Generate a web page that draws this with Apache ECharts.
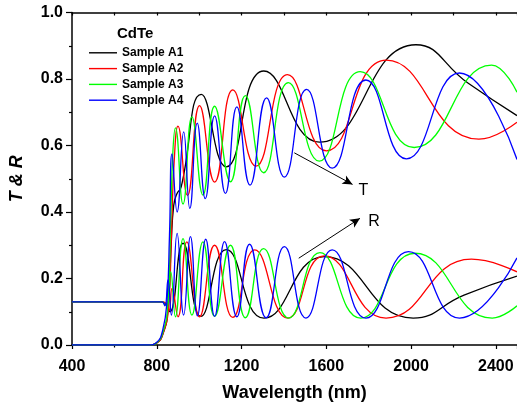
<!DOCTYPE html>
<html>
<head>
<meta charset="utf-8">
<script src="https://cdn.jsdelivr.net/npm/echarts@6/dist/echarts.min.js"></script>
<style>
html,body{margin:0;padding:0;background:#fff;}
#chart{width:517px;height:407px;}
</style>
</head>
<body>
<div id="chart"></div>
<script>
// ---- Data (wavelength nm, value) ----
const sampleNames = ['Sample A1', 'Sample A2', 'Sample A3', 'Sample A4'];
const sampleColors = ['#000000', '#ff0000', '#00ff00', '#0000ff'];

// Transmission T
const wlT_A1 = [400, 760, 800, 830, 852, 868, 880, 895, 915, 1010, 1128, 1305, 1568, 2023, 2270, 2500];
const T_A1   = [0, 0, 0.006, 0.035, 0.10, 0.30, 0.42, 0.455, 0.475, 0.754, 0.536, 0.824, 0.61, 0.903, 0.787, 0.69];

const wlT_A2 = [400, 760, 800, 830, 855, 870, 882, 900, 945, 1002, 1073, 1159, 1268, 1417, 1601, 1883, 2320, 2500];
const T_A2   = [0, 0, 0.006, 0.035, 0.11, 0.35, 0.55, 0.658, 0.45, 0.72, 0.49, 0.767, 0.538, 0.813, 0.584, 0.857, 0.619, 0.67];

const wlT_A3 = [400, 760, 800, 830, 852, 866, 876, 888, 924, 966, 1018, 1073, 1148, 1218, 1304, 1421, 1567, 1760, 2015, 2380, 2500];
const T_A3   = [0, 0, 0.007, 0.04, 0.12, 0.38, 0.58, 0.653, 0.424, 0.686, 0.451, 0.718, 0.491, 0.75, 0.518, 0.789, 0.553, 0.822, 0.594, 0.842, 0.76];

const wlT_A4 = [400, 760, 800, 828, 848, 860, 872, 896, 927, 956, 991, 1029, 1073, 1124, 1178, 1240, 1318, 1402, 1507, 1628, 1787, 1978, 2228, 2500];
const T_A4   = [0, 0, 0.008, 0.045, 0.13, 0.33, 0.575, 0.40, 0.641, 0.411, 0.667, 0.44, 0.689, 0.456, 0.716, 0.481, 0.743, 0.505, 0.769, 0.532, 0.797, 0.56, 0.818, 0.558];

// Reflection R
const wlR_A1 = [400, 780, 825, 845, 862, 924, 1008, 1128, 1306, 1590, 2010, 2250, 2500];
const R_A1   = [0.13, 0.13, 0.13, 0.12, 0.10, 0.306, 0.086, 0.287, 0.081, 0.266, 0.081, 0.150, 0.207];

const wlR_A2 = [400, 780, 825, 845, 858, 872, 900, 942, 1002, 1073, 1159, 1262, 1418, 1590, 1882, 2285, 2500];
const R_A2   = [0.13, 0.13, 0.13, 0.125, 0.105, 0.17, 0.085, 0.31, 0.085, 0.30, 0.083, 0.286, 0.081, 0.268, 0.081, 0.258, 0.22];

const wlR_A3 = [400, 780, 825, 842, 853, 866, 888, 924, 966, 1018, 1073, 1148, 1218, 1304, 1423, 1570, 1762, 2018, 2383, 2500];
const R_A3   = [0.13, 0.13, 0.13, 0.12, 0.125, 0.22, 0.085, 0.32, 0.09, 0.31, 0.086, 0.30, 0.082, 0.29, 0.081, 0.278, 0.081, 0.276, 0.081, 0.118];

const wlR_A4 = [400, 780, 825, 838, 853, 869, 896, 927, 959, 992, 1031, 1073, 1120, 1178, 1238, 1316, 1402, 1504, 1628, 1787, 1988, 2229, 2500];
const R_A4   = [0.13, 0.13, 0.13, 0.118, 0.196, 0.09, 0.336, 0.09, 0.326, 0.088, 0.318, 0.086, 0.311, 0.085, 0.303, 0.082, 0.296, 0.081, 0.286, 0.081, 0.281, 0.081, 0.262];

// Axis ticks
const xTicks = [400, 800, 1200, 1600, 2000, 2400];
const yTicks = [0.0, 0.2, 0.4, 0.6, 0.8, 1.0];

// Annotations (data coords)
const arrowT = [[1449, 0.578], [1724, 0.483]];
const arrowR = [[1470, 0.261], [1759, 0.381]];
const labelT = [1775, 0.465];
const labelR = [1825, 0.372];

// ---- Build chart ----
function pairs(xs, ys) { return xs.map((x, i) => [x, ys[i]]); }

const tSets = [[wlT_A1, T_A1], [wlT_A2, T_A2], [wlT_A3, T_A3], [wlT_A4, T_A4]];
const rSets = [[wlR_A1, R_A1], [wlR_A2, R_A2], [wlR_A3, R_A3], [wlR_A4, R_A4]];

const series = [];
for (let i = 0; i < 4; i++) {
  [tSets[i], rSets[i]].forEach(set => {
    series.push({
      type: 'line',
      name: sampleNames[i],
      data: pairs(set[0], set[1]),
      smooth: 0.5,
      symbol: 'none',
      lineStyle: { color: sampleColors[i], width: 1.3 },
      itemStyle: { color: sampleColors[i] },
      animation: false,
      z: 2 + i
    });
  });
}
series[0].markLine = {
  silent: true,
  symbol: ['none', 'arrow'],
  symbolSize: [7, 10],
  label: { show: false },
  lineStyle: { color: '#000', width: 1, type: 'solid' },
  animation: false,
  data: [
    [{ coord: arrowT[0] }, { coord: arrowT[1] }],
    [{ coord: arrowR[0] }, { coord: arrowR[1] }]
  ]
};

const axisFont = { color: '#000', fontWeight: 'bold', fontSize: 16, fontFamily: 'Liberation Sans, Arial, sans-serif' };

const chart = echarts.init(document.getElementById('chart'), null, { renderer: 'canvas' });
chart.setOption({
  animation: false,
  backgroundColor: '#fff',
  grid: { left: 72, right: -1.6, top: 12.5, bottom: 61.7, containLabel: false },
  legend: {
    data: sampleNames,
    orient: 'vertical',
    left: 89,
    top: 46.8,
    padding: 0,
    itemWidth: 28,
    itemHeight: 12,
    itemGap: 3.8,
    icon: 'path://M0,5.3 L28,5.3 L28,6.7 L0,6.7 Z',
    textStyle: { color: '#000', fontWeight: 'bold', fontSize: 12, fontFamily: 'Liberation Sans, Arial, sans-serif' },
    selectedMode: false
  },
  xAxis: [{
    type: 'value', position: 'bottom', min: 400, max: 2500, interval: 400,
    name: 'Wavelength (nm)', nameLocation: 'middle', nameGap: 39,
    nameTextStyle: { color: '#000', fontWeight: 'bold', fontSize: 18, fontFamily: 'Liberation Sans, Arial, sans-serif' },
    axisLine: { lineStyle: { color: '#000', width: 1.5 } },
    axisTick: { show: true, length: 4, lineStyle: { color: '#000', width: 1.2 } },
    minorTick: { show: true, splitNumber: 2, length: 2.5, lineStyle: { color: '#000', width: 1.2 } },
    axisLabel: Object.assign({ margin: 14, showMaxLabel: false,
      formatter: v => (xTicks.indexOf(v) >= 0 ? String(v) : '') }, axisFont),
    splitLine: { show: false }, minorSplitLine: { show: false }
  }, {
    type: 'value', position: 'top', min: 400, max: 2500, interval: 200,
    axisLine: { lineStyle: { color: '#000', width: 1.5 } },
    axisTick: { show: true, inside: true, length: 3, lineStyle: { color: '#000', width: 1.2 } },
    axisLabel: { show: false },
    splitLine: { show: false }
  }],
  yAxis: [{
    type: 'value', min: 0, max: 1, interval: 0.2,
    name: 'T & R', nameLocation: 'middle', nameGap: 46,
    nameTextStyle: { color: '#000', fontWeight: 'bold', fontStyle: 'italic', fontSize: 18, fontFamily: 'Liberation Sans, Arial, sans-serif' },
    axisLine: { show: true, lineStyle: { color: '#000', width: 1.5 } },
    axisTick: { show: true, length: 6, lineStyle: { color: '#000', width: 1.2 } },
    minorTick: { show: true, splitNumber: 2, length: 3, lineStyle: { color: '#000', width: 1.2 } },
    axisLabel: Object.assign({ margin: 9,
      formatter: v => (yTicks.some(t => Math.abs(t - v) < 1e-6) ? v.toFixed(1) : '') }, axisFont),
    splitLine: { show: false }, minorSplitLine: { show: false }
  }],
  series: series
});

// text annotations placed at data coordinates
const pT = chart.convertToPixel({ xAxisIndex: 0, yAxisIndex: 0 }, labelT);
const pR = chart.convertToPixel({ xAxisIndex: 0, yAxisIndex: 0 }, labelR);
chart.setOption({
  graphic: [
    { type: 'text', left: 117, top: 26, style: { text: 'CdTe', fill: '#000', font: 'bold 15px "Liberation Sans", Arial, sans-serif' } },
    { type: 'text', x: pT[0], y: pT[1], style: { text: 'T', fill: '#000', font: '16px "Liberation Sans", Arial, sans-serif', textAlign: 'center', textVerticalAlign: 'middle' } },
    { type: 'text', x: pR[0], y: pR[1], style: { text: 'R', fill: '#000', font: '16px "Liberation Sans", Arial, sans-serif', textAlign: 'center', textVerticalAlign: 'middle' } }
  ]
});
</script>
</body>
</html>
